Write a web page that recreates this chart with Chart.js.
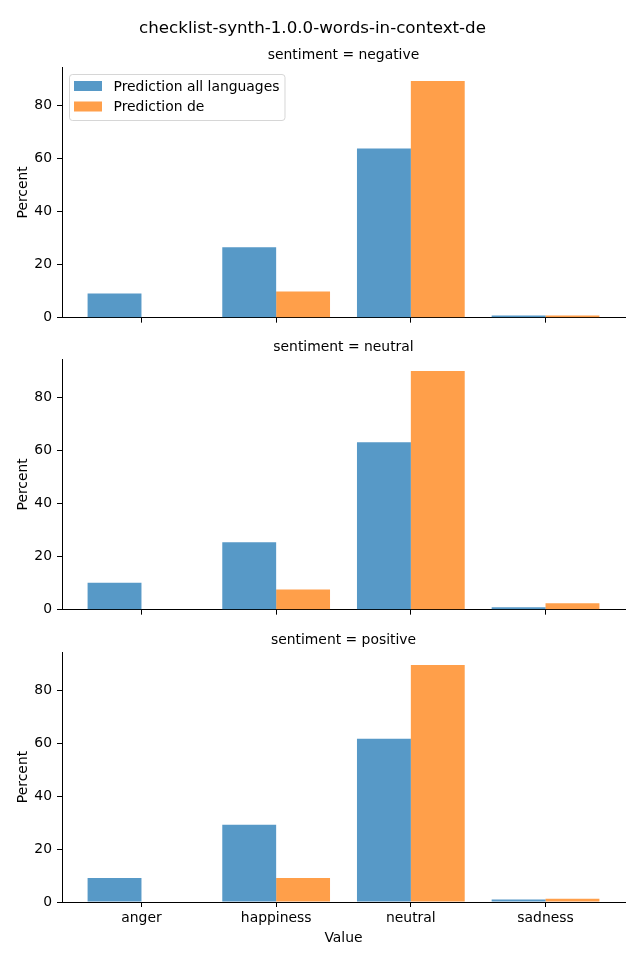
<!DOCTYPE html>
<html>
<head>
<meta charset="utf-8">
<script src="https://cdn.jsdelivr.net/npm/chart.js@4"></script>
<style>
  html, body { margin: 0; padding: 0; background: #fff; }
  body { width: 640px; height: 960px; position: relative; overflow: hidden; }
  canvas { position: absolute; left: 0; }
</style>
</head>
<body>
<canvas id="c1" width="640" height="331" style="top:0px"></canvas>
<canvas id="c2" width="640" height="291" style="top:332px"></canvas>
<canvas id="c3" width="640" height="327" style="top:625px"></canvas>
<script>
const mainTitle = 'checklist-synth-1.0.0-words-in-context-de';
const panelTitles = ['sentiment = negative', 'sentiment = neutral', 'sentiment = positive'];
const categories = ['anger', 'happiness', 'neutral', 'sadness'];
const seriesNames = ['Prediction all languages', 'Prediction de'];
const yTicks = [0, 20, 40, 60, 80];

const negativeAll = [9.1, 26.6, 63.8, 0.8];
const negativeDe  = [0, 9.9, 89.3, 0.8];
const neutralAll  = [10.2, 25.4, 63.2, 0.9];
const neutralDe   = [0, 7.6, 90.1, 2.4];
const positiveAll = [9.1, 29.2, 61.8, 0.9];
const positiveDe  = [0, 9.1, 89.7, 1.2];

const panels = [
  { id: 'c1', title: panelTitles[0], all: negativeAll, de: negativeDe, first: true, last: false },
  { id: 'c2', title: panelTitles[1], all: neutralAll, de: neutralDe, first: false, last: false },
  { id: 'c3', title: panelTitles[2], all: positiveAll, de: positiveDe, first: false, last: true }
];

const FONT = 'DejaVu Sans';
const BLUE = 'rgba(31,119,180,0.75)';
const ORANGE = 'rgba(255,127,14,0.75)';
const colors = [BLUE, ORANGE];

const allVals = [].concat(negativeAll, negativeDe, neutralAll, neutralDe, positiveAll, positiveDe);
const yMax = Math.max(...allVals) * 1.05;

const legendPlugin = {
  id: 'innerLegend',
  afterDraw(chart) {
    if (!chart.options.plugins.innerLegend || !chart.options.plugins.innerLegend.show) return;
    const ctx = chart.ctx;
    ctx.save();
    const x0 = 69.5, y0 = 74.5, w = 215.5, h = 46, r = 3;
    ctx.beginPath();
    ctx.moveTo(x0 + r, y0);
    ctx.lineTo(x0 + w - r, y0);
    ctx.quadraticCurveTo(x0 + w, y0, x0 + w, y0 + r);
    ctx.lineTo(x0 + w, y0 + h - r);
    ctx.quadraticCurveTo(x0 + w, y0 + h, x0 + w - r, y0 + h);
    ctx.lineTo(x0 + r, y0 + h);
    ctx.quadraticCurveTo(x0, y0 + h, x0, y0 + h - r);
    ctx.lineTo(x0, y0 + r);
    ctx.quadraticCurveTo(x0, y0, x0 + r, y0);
    ctx.closePath();
    ctx.fillStyle = 'rgba(255,255,255,0.8)';
    ctx.fill();
    ctx.strokeStyle = 'rgba(204,204,204,0.8)';
    ctx.lineWidth = 1;
    ctx.stroke();
    ctx.font = '13.9px "' + FONT + '"';
    ctx.textBaseline = 'middle';
    ctx.textAlign = 'left';
    chart.data.datasets.forEach((ds, i) => {
      const sy = 81 + i * 20.5;
      ctx.fillStyle = ds.backgroundColor;
      ctx.fillRect(74, sy, 28, 10);
      ctx.fillStyle = '#000';
      ctx.fillText(ds.label, 113.5, sy + 6);
    });
    ctx.restore();
  }
};

panels.forEach(p => {
  const datasets = [p.all, p.de].map((vals, si) => ({
    label: seriesNames[si],
    data: vals.map((v, i) => ({ x: i, y: v })),
    backgroundColor: colors[si],
    borderWidth: 0,
    categoryPercentage: 0.8,
    barPercentage: 1.0
  }));

  const titleCfg = p.first
    ? { display: true, text: mainTitle, color: '#000', font: { family: FONT, size: 16.7, weight: 'normal' }, padding: { top: 19, bottom: 0 }, fullSize: true }
    : { display: false };
  const subCfg = p.first
    ? { display: true, text: p.title, color: '#000', font: { family: FONT, size: 13.9, weight: 'normal' }, padding: { top: 7.62, bottom: 3.66 }, fullSize: false }
    : { display: true, text: p.title, color: '#000', font: { family: FONT, size: 13.9, weight: 'normal' }, padding: { top: 7, bottom: 3.32 }, fullSize: false };

  new Chart(document.getElementById(p.id), {
    type: 'bar',
    data: { datasets },
    plugins: [legendPlugin],
    options: {
      responsive: false,
      animation: false,
      events: [],
      layout: { padding: { left: 0, right: 15, top: 0, bottom: 0 } },
      plugins: {
        legend: { display: false },
        tooltip: { enabled: false },
        title: titleCfg,
        subtitle: subCfg,
        innerLegend: { show: p.first }
      },
      scales: {
        x: {
          type: 'linear',
          min: -0.59,
          max: 3.59,
          offset: false,
          afterBuildTicks: (axis) => { axis.ticks = categories.map((c, i) => ({ value: i })); },
          afterFit: (scale) => { scale.height = p.last ? 50 : 10; },
          ticks: {
            display: p.last,
            autoSkip: false,
            maxRotation: 0,
            padding: 3,
            color: '#000',
            font: { family: FONT, size: 13.9 },
            callback: (v) => categories[Math.round(v)]
          },
          grid: { display: true, offset: false, drawOnChartArea: false, drawTicks: true, tickLength: 5, color: '#000', lineWidth: 1 },
          border: { display: true, color: '#000', width: 1 },
          title: {
            display: p.last,
            text: 'Value',
            color: '#000',
            font: { family: FONT, size: 13.9 },
            padding: { top: 0, bottom: 5 }
          }
        },
        y: {
          min: 0,
          max: yMax,
          afterBuildTicks: (axis) => { axis.ticks = yTicks.map(v => ({ value: v })); },
          afterFit: (scale) => { scale.width = 62; },
          ticks: {
            padding: 5,
            color: '#000',
            font: { family: FONT, size: 13.9 }
          },
          grid: { display: true, drawOnChartArea: false, drawTicks: true, tickLength: 5, color: '#000', lineWidth: 1 },
          border: { display: true, color: '#000', width: 1 },
          title: {
            display: true,
            text: 'Percent',
            color: '#000',
            font: { family: FONT, size: 13.9 },
            padding: { top: 15, bottom: 0 }
          }
        }
      }
    }
  });
});
</script>
</body>
</html>
